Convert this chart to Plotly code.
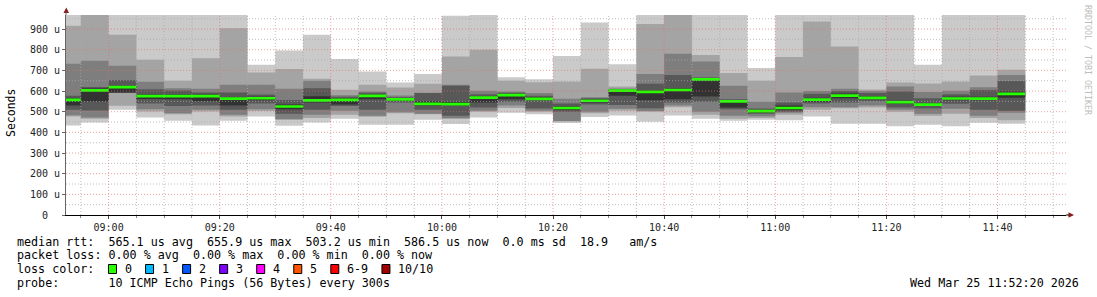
import plotly.graph_objects as go
import pandas as pd

# ---------------- data ----------------
col_end = pd.date_range("2026-03-25 08:55", "2026-03-25 11:45", freq="5min")
col_start = col_end - pd.Timedelta(minutes=5)

# sorted ping rtt values per 5-minute column (microseconds), p1 = fastest
p1 = [433, 448, 510, 472, 456, 433, 456, 477, 432, 448, 466, 437, 437, 461, 440, 472, 495, 488,
      445, 474, 482, 451, 482, 466, 456, 461, 458, 477, 442, 442, 430, 437, 430, 447, 442]
p2 = [477, 466, 529, 501, 488, 501, 477, 503, 460, 470, 485, 475, 493, 488, 465, 500, 518, 500,
      452, 492, 505, 500, 522, 485, 466, 470, 485, 510, 517, 520, 500, 480, 490, 470, 458]
p3 = [483, 472, 590, 512, 493, 509, 485, 512, 465, 485, 505, 480, 497, 490, 470, 505, 530, 505,
      455, 500, 514, 503, 530, 500, 480, 478, 495, 521, 522, 530, 509, 490, 514, 480, 495]
p4 = [509, 506, 592, 540, 528, 530, 509, 540, 490, 509, 528, 510, 545, 510, 480, 520, 548, 515,
      500, 535, 533, 517, 545, 548, 512, 490, 500, 540, 545, 550, 520, 515, 538, 510, 505]
p5 = [530, 549, 593, 561, 560, 551, 530, 555, 512, 545, 535, 560, 552, 530, 530, 545, 560, 555,
      510, 545, 577, 555, 560, 573, 520, 495, 508, 548, 565, 560, 538, 530, 555, 555, 568]
p6 = [565, 612, 625, 583, 583, 583, 570, 572, 535, 575, 565, 583, 565, 550, 548, 575, 587, 570,
      525, 560, 605, 605, 612, 660, 556, 508, 530, 568, 588, 575, 555, 540, 572, 572, 598]
p7 = [577, 619, 654, 609, 603, 593, 593, 583, 557, 614, 572, 592, 570, 590, 625, 585, 592, 577,
      540, 565, 608, 635, 678, 665, 560, 515, 545, 587, 600, 590, 598, 565, 585, 605, 648]
p8 = [732, 746, 722, 645, 614, 611, 630, 630, 611, 650, 580, 598, 578, 592, 630, 601, 598, 590,
      563, 570, 612, 683, 780, 743, 625, 548, 593, 600, 611, 600, 622, 595, 601, 618, 678]
p9 = [916, 990, 872, 751, 650, 759, 904, 690, 707, 659, 606, 630, 617, 635, 767, 800, 650, 643,
      646, 708, 622, 925, 980, 775, 687, 650, 765, 937, 816, 608, 641, 637, 646, 675, 703]
p10 = [990, 1000, 990, 990, 990, 990, 990, 727, 796, 872, 755, 695, 641, 683, 964, 975, 667, 657,
       770, 932, 730, 975, 1000, 975, 975, 711, 975, 975, 975, 975, 975, 727, 975, 975, 975]
median = [557, 603, 619, 575, 575, 575, 563, 565, 525, 555, 557, 577, 560, 538, 537, 568, 580, 562,
          518, 553, 602, 596, 605, 656, 550, 503, 518, 558, 578, 567, 546, 534, 564, 563, 586]

y_ticks = [0, 100, 200, 300, 400, 500, 600, 700, 800, 900]
y_ticktext = ["0\u00a0\u00a0", "100 u", "200 u", "300 u", "400 u", "500 u",
              "600 u", "700 u", "800 u", "900 u"]
y_minor = [50, 150, 250, 350, 450, 550, 650, 750, 850, 950]
x_major = pd.date_range("2026-03-25 09:00", "2026-03-25 11:40", freq="20min")
x_minor = [t for t in pd.date_range("2026-03-25 08:55", "2026-03-25 11:50", freq="5min")
           if t not in set(x_major)]
x_ticktext = [t.strftime("%H:%M") for t in x_major]

loss_labels = ["0", "1", "2", "3", "4", "5", "6-9", "10/10"]
loss_colors = ["#26ff00", "#00b8ff", "#0059ff", "#7e00ff", "#ff00ff", "#ff5500", "#ff0000", "#a00000"]

legend_line1 = "median rtt:  565.1 us avg  655.9 us max  503.2 us min  586.5 us now  0.0 ms sd  18.9   am/s"
legend_line2 = "packet loss: 0.00 % avg  0.00 % max  0.00 % min  0.00 % now"
legend_line4 = "probe:       10 ICMP Echo Pings (56 Bytes) every 300s"
date_text = "Wed Mar 25 11:52:20 2026"

# ---------------- style ----------------
X0, X1 = pd.Timestamp("2026-03-25 08:52:20"), pd.Timestamp("2026-03-25 11:52:20")
YMAX = 968
ML, MT, PW, PH = 66, 15, 1000, 200
W, H = 1097, 297
BAND_COLORS = ["#cacaca", "#a4a4a4", "#7e7e7e", "#585858", "#323232"]
MED_HALF = 6.5
MONO = "DejaVu Sans Mono"


def px_x(px):
    return (px - ML) / PW


def px_y(py):
    return (MT + PH - py) / PH


def step(vals):
    xs = list(col_start) + [col_end[-1]]
    ys = list(vals) + [vals[-1]]
    return xs, ys


fig = go.Figure()
pings = [p1, p2, p3, p4, p5, p6, p7, p8, p9, p10]
for k in range(5):
    xs, ylo = step(pings[k])
    _, yhi = step(pings[9 - k])
    fig.add_trace(go.Scatter(x=xs, y=ylo, mode="lines", line=dict(width=0, shape="hv"),
                             hoverinfo="skip", showlegend=False))
    fig.add_trace(go.Scatter(x=xs, y=yhi, mode="lines", line=dict(width=0, shape="hv"),
                             fill="tonexty", fillcolor=BAND_COLORS[k],
                             hoverinfo="skip", showlegend=False))

xs, mlo = step([m - MED_HALF for m in median])
_, mhi = step([m + MED_HALF for m in median])
fig.add_trace(go.Scatter(x=xs, y=mlo, mode="lines", line=dict(width=0, shape="hv"),
                         hoverinfo="skip", showlegend=False))
fig.add_trace(go.Scatter(x=xs, y=mhi, mode="lines", line=dict(width=0, shape="hv"),
                         fill="tonexty", fillcolor=loss_colors[0],
                         hoverinfo="skip", showlegend=False))


# grid lines drawn above the smoke (as rrdtool does)
def hlines(vals):
    xs, ys = [], []
    for v in vals:
        xs += [X0, X1, None]
        ys += [v, v, None]
    return xs, ys


def vlines(vals):
    xs, ys = [], []
    for v in vals:
        xs += [v, v, None]
        ys += [0, YMAX, None]
    return xs, ys


MINOR_COL = "rgba(170,170,170,0.75)"
MAJOR_COL = "rgba(225,110,110,0.65)"
for fn, vals, col in [(hlines, y_minor, MINOR_COL), (vlines, x_minor, MINOR_COL),
                      (hlines, y_ticks[1:], MAJOR_COL), (vlines, list(x_major), MAJOR_COL)]:
    gx, gy = fn(vals)
    fig.add_trace(go.Scatter(x=gx, y=gy, mode="lines",
                             line=dict(color=col, width=1, dash="1px,2px"),
                             hoverinfo="skip", showlegend=False))

fig.update_layout(
    width=W, height=H,
    margin=dict(l=ML, r=W - ML - PW, t=MT, b=H - MT - PH),
    paper_bgcolor="white", plot_bgcolor="white",
    showlegend=False,
    font=dict(family=MONO, size=10, color="#222"),
    xaxis=dict(range=[X0, X1], type="date", showgrid=False, zeroline=False,
               tickmode="array", tickvals=list(x_major), ticktext=x_ticktext,
               ticks="outside", ticklen=3, tickcolor="#444",
               minor=dict(ticks="outside", ticklen=2, tickcolor="#888",
                          tick0="2026-03-25 09:00", dtick=300000, showgrid=False),
               showline=True, linecolor="#000", linewidth=1,
               tickfont=dict(family=MONO, size=10, color="#222")),
    yaxis=dict(range=[0, YMAX], showgrid=False, zeroline=False,
               tickmode="array", tickvals=y_ticks, ticktext=y_ticktext,
               ticks="outside", ticklen=3, tickcolor="#666",
               showline=True, linecolor="#666", linewidth=1,
               tickfont=dict(family=MONO, size=10, color="#222")),
)

shapes = []
# axis arrows
shapes.append(dict(type="path", xref="paper", yref="paper",
                   path=f"M {px_x(63.5)} {px_y(13)} L {px_x(69)} {px_y(13)} L {px_x(66.3)} {px_y(7.5)} Z",
                   fillcolor="#8b1c1c", line=dict(width=0)))
shapes.append(dict(type="path", xref="paper", yref="paper",
                   path=f"M {px_x(1068.5)} {px_y(212.3)} L {px_x(1068.5)} {px_y(217.7)} L {px_x(1074)} {px_y(215)} Z",
                   fillcolor="#8b1c1c", line=dict(width=0)))
shapes.append(dict(type="line", xref="paper", yref="paper", x0=px_x(66), x1=px_x(66),
                   y0=1, y1=px_y(12), line=dict(color="#666", width=1)))
shapes.append(dict(type="line", xref="paper", yref="paper", x0=1, x1=px_x(1069),
                   y0=0, y1=0, line=dict(color="#000", width=1)))

annotations = []


def ann(text, px, py, anchor="left", size=11.7, color="#000", angle=0):
    annotations.append(dict(text=text.replace(" ", "\u00a0"), xref="paper", yref="paper",
                            x=px_x(px), y=px_y(py), xanchor=anchor, yanchor="middle",
                            showarrow=False, textangle=angle,
                            font=dict(family=MONO, size=size, color=color)))


ann(legend_line1, 15, 241.5)
ann(legend_line2, 15, 255)
ann("loss color:", 15, 268.7)
ann(legend_line4, 15, 282.5)
ann(date_text, 1081, 282.5, anchor="right")

sx = 108.5
for lab, col in zip(loss_labels, loss_colors):
    shapes.append(dict(type="rect", xref="paper", yref="paper",
                       x0=px_x(sx), x1=px_x(sx + 8), y0=px_y(273.5), y1=px_y(264.5),
                       fillcolor=col, line=dict(color="#000", width=1)))
    ann(lab, sx + 14.5, 268.7)
    sx += 30 + 7.05 * len(lab)

# axis title and watermark
annotations.append(dict(text="Seconds", xref="paper", yref="paper", x=px_x(11), y=px_y(113),
                        xanchor="center", yanchor="middle", showarrow=False, textangle=-90,
                        font=dict(family=MONO, size=11.5, color="#000")))
annotations.append(dict(text="RRDTOOL / TOBI OETIKER", xref="paper", yref="paper",
                        x=px_x(1088), y=px_y(60), xanchor="center", yanchor="middle",
                        showarrow=False, textangle=90,
                        font=dict(family=MONO, size=8.3, color="#bdbdbd")))

fig.update_layout(shapes=shapes, annotations=annotations)
fig.write_html("out.html")
